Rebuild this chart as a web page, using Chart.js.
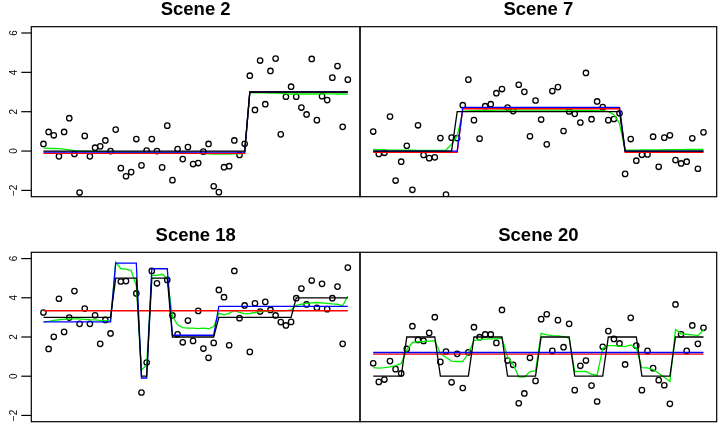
<!DOCTYPE html>
<html>
<head>
  <meta charset="UTF-8">
  <title>Scenes</title>
  <script src="https://cdn.jsdelivr.net/npm/chart.js"></script>
  <style>
    body { margin: 0; background: #fff; }
    #wrap { position: relative; width: 718px; height: 423px; }
    #wrap canvas { position: absolute; left: 0; top: 0; }
  </style>
</head>
<body>
<div id="wrap">
  <canvas id="c1" width="718" height="423"></canvas>
  <canvas id="c2" width="718" height="423"></canvas>
  <canvas id="c3" width="718" height="423"></canvas>
  <canvas id="c4" width="718" height="423"></canvas>
</div>
<script>
// x positions (observation index)
const idx = [1,2,3,4,5,6,7,8,9,10,11,12,13,14,15,16,17,18,19,20,
  21,22,23,24,25,26,27,28,29,30,31,32,33,34,35,36,37,38,39,40,
  41,42,43,44,45,46,47,48,49,50,51,52,53,54,55,56,57,58,59,60];
const yTicks = [-2, 0, 2, 4, 6];

// Scene 2
const s2Obs = [0.36,0.97,0.80,-0.27,0.97,1.67,-0.15,-2.11,0.77,-0.27,
  0.17,0.24,0.54,0.00,1.09,-0.87,-1.28,-1.07,0.61,-0.73,
  0.02,0.61,0.00,-0.83,1.29,-1.48,0.10,-0.41,0.20,-0.66,
  -0.61,-0.03,0.36,-1.79,-2.09,-0.82,-0.77,0.54,-0.20,0.37,
  3.83,2.09,4.60,2.38,4.07,4.70,0.85,2.76,3.27,2.76,
  2.21,1.86,4.68,1.57,2.79,2.59,3.73,4.32,1.23,3.63];
const s2True = [0,0,0,0,0,0,0,0,0,0,0,0,0,0,0,0,0,0,0,0,
  0,0,0,0,0,0,0,0,0,0,0,0,0,0,0,0,0,0,0,0,
  3,3,3,3,3,3,3,3,3,3,3,3,3,3,3,3,3,3,3,3];
const s2Blue = [-0.05,-0.05,-0.05,-0.05,-0.05,-0.05,-0.05,-0.05,-0.05,-0.05,
  -0.05,-0.05,-0.05,-0.05,-0.05,-0.05,-0.05,-0.05,-0.05,-0.05,
  -0.05,-0.05,-0.05,-0.05,-0.05,-0.05,-0.05,-0.05,-0.05,-0.05,
  -0.05,-0.05,-0.05,-0.05,-0.05,-0.05,-0.05,-0.05,-0.05,-0.05,
  3.01,3.01,3.01,3.01,3.01,3.01,3.01,3.01,3.01,3.01,
  3.01,3.01,3.01,3.01,3.01,3.01,3.01,3.01,3.01,3.01];
const s2Red = [-0.12,-0.12,-0.12,-0.12,-0.12,-0.12,-0.12,-0.12,-0.12,-0.12,
  -0.12,-0.12,-0.12,-0.12,-0.12,-0.12,-0.12,-0.12,-0.12,-0.12,
  -0.12,-0.12,-0.12,-0.12,-0.12,-0.12,-0.12,-0.12,-0.12,-0.12,
  -0.12,-0.12,-0.12,-0.12,-0.12,-0.12,-0.12,-0.12,-0.12,-0.12,
  3.00,3.00,3.00,3.00,3.00,3.00,3.00,3.00,3.00,3.00,
  3.00,3.00,3.00,3.00,3.00,3.00,3.00,3.00,3.00,3.00];
const s2Green = [0.15,0.14,0.13,0.12,0.10,0.06,0.02,0.00,-0.01,-0.02,
  -0.02,-0.03,-0.03,-0.04,-0.04,-0.05,-0.05,-0.06,-0.06,-0.07,
  -0.07,-0.08,-0.08,-0.08,-0.09,-0.09,-0.10,-0.10,-0.11,-0.12,
  -0.12,-0.13,-0.14,-0.15,-0.16,-0.16,-0.15,-0.14,-0.13,-0.12,
  2.96,2.96,2.96,2.96,2.95,2.95,2.93,2.91,2.90,2.90,
  2.90,2.90,2.90,2.90,2.91,2.91,2.91,2.90,2.90,2.90];

// Scene 7
const s7Obs = [0.99,-0.15,-0.09,1.75,-1.50,-0.54,0.27,-1.97,1.31,-0.20,
  -0.36,-0.32,0.66,-2.21,0.68,0.66,2.33,3.63,1.57,0.63,
  2.28,2.38,2.94,3.15,2.21,2.03,3.37,3.01,0.75,2.57,
  1.60,0.34,3.05,3.25,1.02,2.01,1.89,1.45,3.97,1.62,
  2.52,2.23,1.57,1.63,1.92,-1.16,0.61,-0.49,-0.19,-0.17,
  0.73,-0.80,0.68,0.80,-0.46,-0.63,-0.54,0.65,-0.90,0.95];
const s7True = [0,0,0,0,0,0,0,0,0,0,0,0,0,0,0,
  2,2,2,2,2,2,2,2,2,2,2,2,2,2,2,2,2,2,2,2,2,2,2,2,2,2,2,2,2,2,
  0,0,0,0,0,0,0,0,0,0,0,0,0,0,0];
const s7Blue = [0,0,0,0,0,0,0,0,0,0,0,0,0,0,0,0,
  2.22,2.22,2.22,2.22,2.22,2.22,2.22,2.22,2.22,2.22,2.22,2.22,2.22,2.22,2.22,
  2.22,2.22,2.22,2.22,2.22,2.22,2.22,2.22,2.22,2.22,2.22,2.22,2.22,2.22,
  0,0,0,0,0,0,0,0,0,0,0,0,0,0,0];
const s7Red = [-0.06,-0.06,-0.06,-0.06,-0.06,-0.06,-0.06,-0.06,-0.06,-0.06,-0.06,-0.06,-0.06,-0.06,-0.06,-0.06,
  2.15,2.15,2.15,2.15,2.15,2.15,2.15,2.15,2.15,2.15,2.15,2.15,2.15,2.15,2.15,
  2.15,2.15,2.15,2.15,2.15,2.15,2.15,2.15,2.15,2.15,2.15,2.15,2.15,2.15,
  -0.06,-0.06,-0.06,-0.06,-0.06,-0.06,-0.06,-0.06,-0.06,-0.06,-0.06,-0.06,-0.06,-0.06,-0.06];
const s7Green = [0.08,0.07,0.06,0.05,0.05,0.04,0.04,0.04,0.03,0.03,
  0.03,0.03,0.03,0.05,0.35,0.75,2.02,2.04,2.05,2.06,
  2.07,2.07,2.08,2.08,2.08,2.08,2.08,2.08,2.08,2.08,
  2.08,2.08,2.08,2.08,2.08,2.08,2.07,2.07,2.07,2.06,
  2.05,2.04,2.00,1.85,1.40,0.05,0.05,0.05,0.06,0.06,
  0.06,0.06,0.07,0.07,0.07,0.07,0.08,0.08,0.08,0.08];

// Scene 18 (three observations lie above the plotted range)
const s18Obs = [3.25,1.39,2.01,3.95,2.26,2.99,4.34,2.67,3.45,2.67,
  3.11,1.65,2.87,2.18,7.40,4.83,4.85,7.50,4.22,-0.83,
  0.70,5.37,4.74,6.90,4.91,3.10,2.14,1.73,2.84,1.80,
  3.33,1.41,0.94,1.70,4.40,4.03,1.58,5.37,2.96,3.61,
  1.24,3.72,3.30,3.79,3.38,3.10,2.76,2.59,2.77,3.98,
  4.47,3.66,4.88,3.49,4.71,3.42,3.98,4.57,1.65,5.54];
const s18True = [3,3,3,3,3,3,3,3,3,3,3,3,3,3,
  5,5,5,5,5,0,0,5,5,5,5,
  2,2,2,2,2,2,2,2,2,
  3,3,3,3,3,3,3,3,3,3,3,3,3,3,3,
  4,4,4,4,4,4,4,4,4,4,4];
const s18Blue = [2.77,2.77,2.77,2.77,2.77,2.77,2.77,2.77,2.77,2.77,2.77,2.77,2.77,2.77,
  5.77,5.77,5.77,5.77,5.77,-0.09,-0.09,5.48,5.48,5.48,5.48,
  2.09,2.09,2.09,2.09,2.09,2.09,2.09,2.09,2.09,
  3.56,3.56,3.56,3.56,3.56,3.56,3.56,3.56,3.56,3.56,3.56,3.56,3.56,
  3.56,3.56,3.56,3.56,3.56,3.56,3.56,3.56,3.56,3.56,3.56,3.56,3.56];
const s18Red = [3.34,3.34,3.34,3.34,3.34,3.34,3.34,3.34,3.34,3.34,
  3.34,3.34,3.34,3.34,3.34,3.34,3.34,3.34,3.34,3.34,
  3.34,3.34,3.34,3.34,3.34,3.34,3.34,3.34,3.34,3.34,
  3.34,3.34,3.34,3.34,3.34,3.34,3.34,3.34,3.34,3.34,
  3.34,3.34,3.34,3.34,3.34,3.34,3.34,3.34,3.34,3.34,
  3.34,3.34,3.34,3.34,3.34,3.34,3.34,3.34,3.34,3.34];
const s18Green = [2.77,2.80,2.85,2.88,2.90,2.92,2.92,2.92,2.90,2.88,
  2.87,2.85,2.84,2.82,5.82,5.48,5.46,5.39,4.60,0.32,
  0.58,5.14,5.14,5.20,5.00,3.04,2.62,2.48,2.45,2.45,
  2.43,2.45,2.42,2.53,3.21,3.13,3.21,3.35,3.25,3.18,
  3.21,3.25,3.30,3.31,3.35,3.35,3.33,3.35,3.38,3.62,
  3.67,3.72,3.74,3.76,3.74,3.72,3.69,3.67,3.59,4.09];

// Scene 20
const s20Obs = [0.66,-0.29,-0.17,0.77,0.36,0.14,1.39,2.55,1.85,1.80,
  2.21,3.01,0.73,1.26,-0.31,1.14,-0.60,1.22,2.50,1.99,
  2.13,2.13,1.70,3.38,0.80,0.58,-1.38,-0.88,0.94,-0.24,
  2.91,3.16,1.29,2.86,1.48,2.67,-0.71,0.53,0.80,-0.48,
  -1.29,1.50,2.30,1.90,1.67,0.60,2.98,1.56,-0.71,1.29,
  0.41,-0.20,-0.46,-1.41,3.66,2.14,1.29,2.59,1.65,2.47];
const s20True = [0,0,0,0,0,0,2,2,2,2,2,2,0,0,0,0,0,0,2,2,2,2,2,2,
  0,0,0,0,0,0,2,2,2,2,2,2,0,0,0,0,0,0,2,2,2,2,2,2,
  0,0,0,0,0,0,2,2,2,2,2,2];
const s20Blue = [1.21,1.21,1.21,1.21,1.21,1.21,1.21,1.21,1.21,1.21,
  1.21,1.21,1.21,1.21,1.21,1.21,1.21,1.21,1.21,1.21,
  1.21,1.21,1.21,1.21,1.21,1.21,1.21,1.21,1.21,1.21,
  1.21,1.21,1.21,1.21,1.21,1.21,1.21,1.21,1.21,1.21,
  1.21,1.21,1.21,1.21,1.21,1.21,1.21,1.21,1.21,1.21,
  1.21,1.21,1.21,1.21,1.21,1.21,1.21,1.21,1.21,1.21];
const s20Red = [1.13,1.13,1.13,1.13,1.13,1.13,1.13,1.13,1.13,1.13,
  1.13,1.13,1.13,1.13,1.13,1.13,1.13,1.13,1.13,1.13,
  1.13,1.13,1.13,1.13,1.13,1.13,1.13,1.13,1.13,1.13,
  1.13,1.13,1.13,1.13,1.13,1.13,1.13,1.13,1.13,1.13,
  1.13,1.13,1.13,1.13,1.13,1.13,1.13,1.13,1.13,1.13,
  1.13,1.13,1.13,1.13,1.13,1.13,1.13,1.13,1.13,1.13];
const s20Green = [0.44,0.41,0.44,0.48,0.54,0.65,1.34,1.72,1.75,1.77,
  1.79,1.80,1.17,0.95,0.77,0.75,0.75,1.17,1.82,1.87,
  1.89,1.90,1.90,1.94,1.00,0.61,-0.03,-0.05,0.24,0.27,
  2.19,2.11,2.07,2.06,2.02,1.94,0.24,0.24,0.24,0.10,
  0.05,1.43,1.56,1.56,1.53,1.51,1.60,1.43,0.44,0.43,
  0.34,0.15,-0.05,-0.27,2.38,2.16,2.14,2.11,2.07,2.36];

const xy = vals => idx.map((x, i) => ({ x: x, y: vals[i] }));

// box, y axis (rotated labels as in R) and title
const decor = {
  id: 'decor',
  afterDraw(chart, args, opts) {
    const ctx = chart.ctx, a = chart.chartArea, y = chart.scales.y;
    ctx.save();
    ctx.strokeStyle = '#000';
    ctx.lineWidth = 1.2;
    ctx.strokeRect(a.left, a.top, a.right - a.left, a.bottom - a.top);
    if (opts.axis) {
      ctx.font = '10px "Liberation Sans", Arial, sans-serif';
      ctx.fillStyle = '#000';
      ctx.textAlign = 'center';
      ctx.textBaseline = 'alphabetic';
      yTicks.forEach(t => {
        const py = y.getPixelForValue(t);
        ctx.beginPath();
        ctx.moveTo(a.left - 10, py);
        ctx.lineTo(a.left, py);
        ctx.stroke();
        ctx.save();
        ctx.translate(a.left - 14.5, py);
        ctx.rotate(-Math.PI / 2);
        ctx.fillText(t < 0 ? '\u2212' + Math.abs(t) : String(t), 0, 0);
        ctx.restore();
      });
    }
    ctx.font = 'bold 18.5px "Liberation Sans", Arial, sans-serif';
    ctx.fillStyle = '#000';
    ctx.textAlign = 'center';
    ctx.fillText(opts.title, (a.left + a.right) / 2, a.top - 11.5);
    ctx.restore();
  }
};

function line(vals, color, order) {
  return {
    type: 'line', data: xy(vals), borderColor: color, borderWidth: 1.3,
    pointRadius: 0, fill: false, tension: 0, order: order, clip: 0
  };
}

function panel(id, title, axis, pad, obs, truth, blue, red, green) {
  new Chart(document.getElementById(id), {
    type: 'scatter',
    data: {
      datasets: [
        line(truth, '#000000', 1),
        line(blue, '#0000ff', 2),
        line(red, '#ff0000', 3),
        line(green, '#00ee00', 4),
        {
          data: xy(obs), showLine: false, order: 5, clip: 0,
          pointRadius: 2.7, pointBorderWidth: 1.3,
          pointBackgroundColor: 'rgba(0,0,0,0)', pointBorderColor: '#000'
        }
      ]
    },
    options: {
      responsive: false,
      animation: false,
      devicePixelRatio: 1,
      layout: { padding: pad, autoPadding: false },
      scales: {
        x: { type: 'linear', min: -1.36, max: 62.36, display: false },
        y: { type: 'linear', min: -2.32, max: 6.32, display: false }
      },
      plugins: {
        legend: { display: false },
        tooltip: { enabled: false },
        decor: { title: title, axis: axis }
      }
    },
    plugins: [decor]
  });
}

panel('c1', 'Scene 2', true, { left: 31.3, right: 358, top: 26.7, bottom: 226.3 },
  s2Obs, s2True, s2Blue, s2Red, s2Green);
panel('c2', 'Scene 7', false, { left: 360, right: 1.3, top: 26.7, bottom: 226.3 },
  s7Obs, s7True, s7Blue, s7Red, s7Green);
panel('c3', 'Scene 18', true, { left: 31.3, right: 358, top: 252.3, bottom: 1.3 },
  s18Obs, s18True, s18Blue, s18Red, s18Green);
panel('c4', 'Scene 20', false, { left: 360, right: 1.3, top: 252.3, bottom: 1.3 },
  s20Obs, s20True, s20Blue, s20Red, s20Green);
</script>
</body>
</html>
